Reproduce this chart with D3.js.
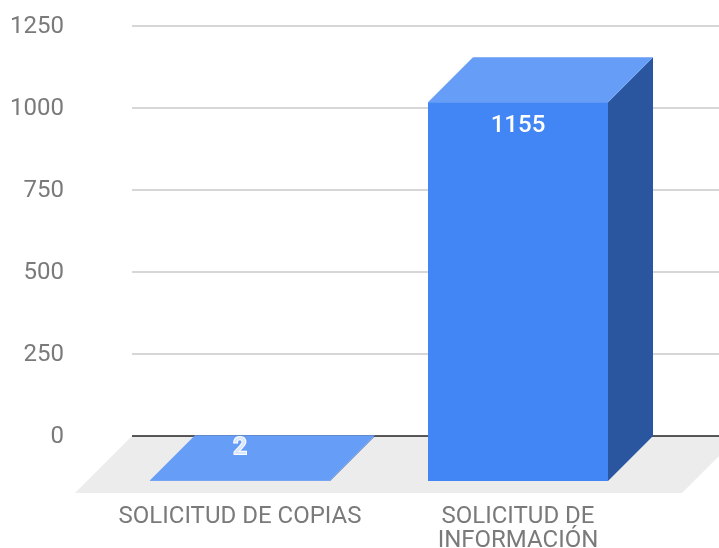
<!DOCTYPE html>
<html><head><meta charset="utf-8">
<script src="https://cdnjs.cloudflare.com/ajax/libs/d3/7.8.5/d3.min.js"></script>
<style>html,body{margin:0;padding:0;background:#fff}svg{display:block;filter:blur(.7px)}text{font-family:Roboto,sans-serif}</style>
</head><body><svg id="c" width="719" height="548"></svg>
<script>
const categories = ["SOLICITUD DE COPIAS", "SOLICITUD DE INFORMACIÓN"];
const categoryLines = [["SOLICITUD DE COPIAS"], ["SOLICITUD DE", "INFORMACIÓN"]];
const values = [2, 1155];
const yTicks = [0, 250, 500, 750, 1000, 1250];

const svg = d3.select("#c");
const y = d3.scaleLinear().domain([0, 1250]).range([436, 26]);
const x = d3.scaleBand().domain(categories).range([150, 608]).paddingInner(98 / 278).paddingOuter(0);
const dx = 45, dy = 45, floorDx = 57, floorDy = 57;
const left = 132, right = 719;
const poly = pts => pts.map(p => p.join(",")).join(" ");

// floor
svg.append("polygon").attr("fill", "#ececec")
  .attr("points", poly([[left, y(0)], [right + 20, y(0)], [right + 20 - floorDx, y(0) + floorDy], [left - floorDx, y(0) + floorDy]]));

// gridlines
svg.append("g").selectAll("line").data(yTicks.filter(d => d !== 0)).join("line")
  .attr("x1", left).attr("x2", right).attr("y1", d => y(d)).attr("y2", d => y(d))
  .attr("stroke", "#c8c8c8").attr("stroke-width", 1.5);
svg.append("line").attr("x1", left).attr("x2", right).attr("y1", y(0)).attr("y2", y(0))
  .attr("stroke", "#222").attr("stroke-width", 1.6);

// tick labels
svg.append("g").selectAll("text").data(yTicks).join("text")
  .attr("x", 64).attr("y", d => y(d) + 7).attr("text-anchor", "end")
  .attr("font-size", 24).attr("fill", "#7a7a7a").text(d => d);

// bars
const bars = svg.append("g").selectAll("g").data(categories.map((c, i) => ({c, v: values[i]}))).join("g");
bars.append("polygon").attr("fill", "#2a56a0").attr("points", d => {
  const r = x(d.c) + x.bandwidth();
  return poly([[r, y(d.v) + dy], [r + dx, y(d.v)], [r + dx, y(0)], [r, y(0) + dy]]);
});
bars.append("rect").attr("fill", "#4285f4")
  .attr("x", d => x(d.c)).attr("width", x.bandwidth())
  .attr("y", d => y(d.v) + dy).attr("height", d => y(0) - y(d.v));
bars.append("polygon").attr("fill", "#669df6").attr("points", d => {
  const l = x(d.c), r = l + x.bandwidth();
  return poly([[l, y(d.v) + dy], [l + dx, y(d.v)], [r + dx, y(d.v)], [r, y(d.v) + dy]]);
});

// value labels
bars.append("text").attr("text-anchor", "middle")
  .attr("x", d => x(d.c) + x.bandwidth() / 2)
  .attr("y", d => y(d.v) + dy + 30)
  .attr("font-size", 24).attr("font-weight", 500)
  .attr("fill", "#fff")
  .attr("stroke", d => d.v < 50 ? "#fff" : "none").attr("stroke-width", 2)
  .style("paint-order", "stroke").text(d => d.v);
bars.filter(d => d.v < 50).select("text").attr("y", d => y(d.v) + 19).attr("fill", "#dbe7fd");

// category labels
svg.append("g").selectAll("text").data(categories).join("text")
  .attr("text-anchor", "middle").attr("font-size", 24).attr("fill", "#7a7a7a")
  .attr("transform", d => `translate(${x(d) + x.bandwidth() / 2},523)`)
  .each(function(d, i) {
    d3.select(this).selectAll("tspan").data(categoryLines[i]).join("tspan")
      .attr("x", 0).attr("y", (l, j) => j * 24).text(l => l);
  });
</script></body></html>
